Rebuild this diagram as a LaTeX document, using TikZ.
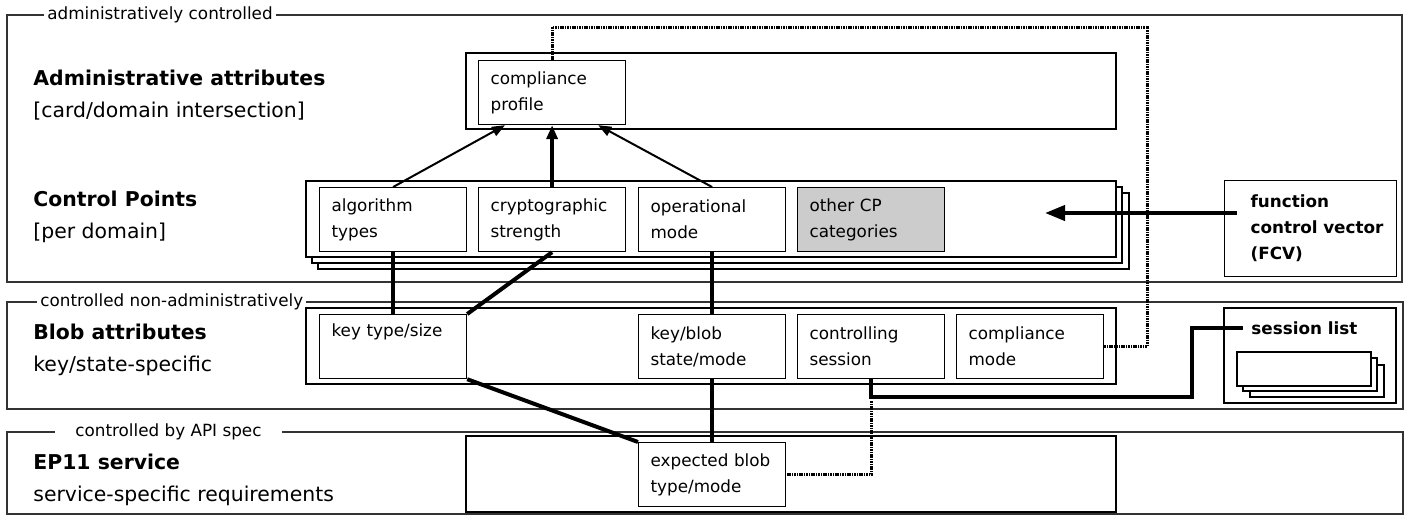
\documentclass[tikz,border=0pt]{standalone}
\usepackage{fontspec}
\setmainfont{DejaVu Sans}
\usepackage{tikz}
\usetikzlibrary{arrows.meta}

\newcommand{\boxfont}{\fontsize{8.4}{13}\selectfont}
\newcommand{\headfont}{\fontsize{10.2}{16}\selectfont}

\begin{document}
\begin{tikzpicture}[x=0.5pt,y=-0.5pt,
                frame/.style={draw=black!80,line width=0.6pt},
                panel/.style={draw=black,line width=0.6pt,fill=white},
                attr/.style={draw,line width=0.6pt,fill=white,anchor=north west,minimum width=73.5pt,minimum height=32pt,text width=61.5pt,inner xsep=6pt,align=left,font=\boxfont},
                sidebox/.style={draw,line width=0.6pt,fill=white,anchor=north west,minimum width=86pt,minimum height=48pt,text width=60pt,inner xsep=13pt,align=left,font=\boxfont\bfseries},
                grplabel/.style={fill=white,inner xsep=1.5pt,inner ysep=1pt,anchor=west,font=\boxfont},
                layer/.style={anchor=base west,align=left,inner sep=0pt,font=\headfont},
                link/.style={line width=2pt},
                dep/.style={line width=1pt,-{Triangle[length=6.5pt,width=5pt]}},
                ctrl/.style={line width=1.5pt,dash pattern=on 0.8pt off 0.4pt},
            ]
                \useasboundingbox (0,0) rectangle (1407,515);

% the three layers
                \draw[frame] (7,15) rectangle (1402,282);
                \node[grplabel] (admlabel) at (44,15) {administratively controlled};
                \draw[frame] (7,302) rectangle (1403,409);
                \node[grplabel] (bloblabel) at (37,302) {controlled non-administratively};
                \draw[frame] (7,432) rectangle (1403,514);
                \node[grplabel,inner xsep=10pt] (apilabel) at (55,432) {controlled by API spec};

% base is the last line of each heading
                \node[layer] (admhead) at (33,117) {\textbf{Administrative attributes}\\{}[card/domain intersection]};
                \node[layer] (cphead) at (33,238) {\textbf{Control Points}\\{}[per domain]};
                \node[layer] (blobhead) at (33,371) {\textbf{Blob attributes}\\key/state-specific};
                \node[layer] (ep11head) at (33,501) {\textbf{EP11 service}\\service-specific requirements};

                \draw[panel] (466,53) rectangle (1116,129);
                \draw[panel] (318,193) rectangle (1129,269);
                \draw[panel] (312,187) rectangle (1122,263);
                \draw[panel] (306,181) rectangle (1116,257);
                \draw[panel] (306,308) rectangle (1116,384);
                \draw[panel] (466,436) rectangle (1116,512);

                \node[attr] (cprof) at (478,60) {compliance\\profile};
                \node[attr] (algtypes) at (319,187) {algorithm\\types};
                \node[attr] (cstrength) at (478,187) {cryptographic\\strength};
                \node[attr] (opmode) at (638,187) {operational\\mode};
                \node[attr,fill=gray!40] (othercp) at (797,187) {other CP\\categories};
                \node[attr] (keysize) at (319,314) {key type/size\\ \strut};
                \node[attr] (blobstate) at (638,314) {key/blob\\state/mode};
                \node[attr] (ctlsess) at (797,314) {controlling\\session};
                \node[attr] (cmode) at (956,314) {compliance\\mode};
                \node[attr] (expblob) at (638,442) {expected blob\\type/mode};

                \node[sidebox] (fcv) at (1224,180) {function\\\mbox{control vector}\\(FCV)};
                \draw[panel] (1224,308) rectangle (1396,403);
                \node[anchor=west,inner xsep=4pt,font=\boxfont\bfseries] (slist) at (1243,328) {session list};
                \draw[panel] (1250,365) rectangle (1384,397);
                \draw[panel] (1243,358) rectangle (1377,391);
                \draw[panel] (1237,352) rectangle (1371,386);

                \coordinate (ctrlturn) at (1147,27);
                \coordinate (sessturn) at (1192,397);
                \coordinate (fcvtail) at (1237,213);
                \coordinate (fcvtip) at (1045,213);

                \draw[ctrl] (cprof.north) |- (ctrlturn) |- (cmode.east);
                \draw[ctrl] ([yshift=-11pt]ctlsess.south) |- (expblob.east);

                \draw[dep] (algtypes.north) -- ([xshift=13.5pt]cprof.south west);
                \draw[dep,line width=2pt,-{Triangle[length=7pt,width=5.5pt]}] (cstrength.north) -- (cprof.south);
                \draw[dep] (opmode.north) -- ([xshift=-14pt]cprof.south east);

                \draw[link] (algtypes.south) -- (keysize.north);
                \draw[link] (cstrength.south) -- (keysize.north east);
                \draw[link] (opmode.south) -- (blobstate.north);
                \draw[link] (keysize.south east) -- (expblob.north west);
                \draw[link] (blobstate.south) -- (expblob.north);
                \draw[link] (ctlsess.south) |- (sessturn) |- (slist.west);
                \draw[link,-{Triangle[length=10pt,width=7.5pt]}] (fcvtail) -- (fcvtip);
            \end{tikzpicture}
\end{document}
